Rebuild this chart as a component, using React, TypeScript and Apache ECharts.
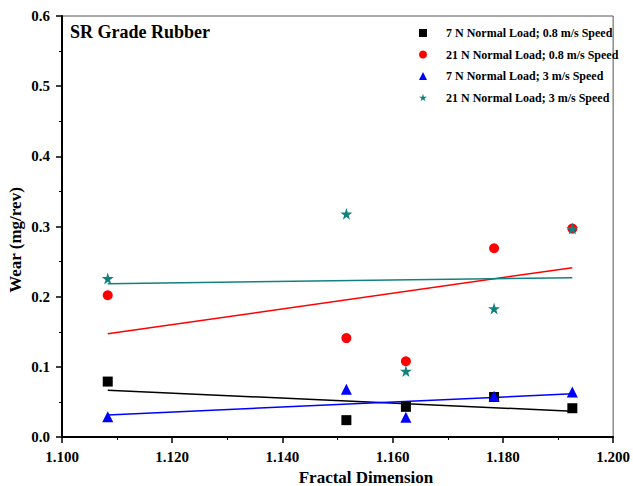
import React, { useEffect, useRef } from "react";
import * as echarts from "echarts";

const fractalDim = [1.1083, 1.1516, 1.1624, 1.1784, 1.1926];
const wear7N08 = [0.079, 0.024, 0.043, 0.057, 0.041];
const wear21N08 = [0.202, 0.141, 0.108, 0.269, 0.297];
const wear7N3 = [0.029, 0.068, 0.028, 0.058, 0.064];
const wear21N3 = [0.226, 0.318, 0.094, 0.183, 0.297];

const seriesNames = [
  "7 N Normal Load; 0.8 m/s Speed",
  "21 N Normal Load; 0.8 m/s Speed",
  "7 N Normal Load; 3 m/s Speed",
  "21 N Normal Load; 3 m/s Speed",
];
const seriesColors = ["#000000", "#ff0000", "#0000ff", "#138080"];
const STAR =
  "path://M50,0 L61,35 L98,35 L68,57 L79,91 L50,70 L21,91 L32,57 L2,35 L39,35 Z";
const seriesSymbols = ["rect", "circle", "triangle", STAR];
const symbolSizes = [10, 10, 11, 12];

function fit(xs: number[], ys: number[]): number[][] {
  const n = xs.length;
  const mx = xs.reduce((a, b) => a + b, 0) / n;
  const my = ys.reduce((a, b) => a + b, 0) / n;
  let sxy = 0;
  let sxx = 0;
  for (let i = 0; i < n; i++) {
    sxy += (xs[i] - mx) * (ys[i] - my);
    sxx += (xs[i] - mx) * (xs[i] - mx);
  }
  const b = sxy / sxx;
  const a = my - b * mx;
  const x0 = Math.min(...xs);
  const x1 = Math.max(...xs);
  return [
    [x0, a + b * x0],
    [x1, a + b * x1],
  ];
}

const FONT = "'Liberation Serif', 'Times New Roman', serif";

export default function App() {
  const ref = useRef<HTMLDivElement>(null);
  useEffect(() => {
    if (!ref.current) return;
    const chart = echarts.init(ref.current, undefined, { renderer: "svg" });
    const allY = [wear7N08, wear21N08, wear7N3, wear21N3];
    const series: any[] = [];
    allY.forEach((ys, i) => {
      series.push({
        type: "line",
        name: "fit" + i,
        data: fit(fractalDim, ys),
        symbol: "none",
        lineStyle: { color: seriesColors[i], width: 1.5 },
        z: 2,
      });
    });
    allY.forEach((ys, i) => {
      series.push({
        type: "scatter",
        name: seriesNames[i],
        data: fractalDim.map((x, j) => [x, ys[j]]),
        symbol: seriesSymbols[i],
        symbolSize: symbolSizes[i],
        itemStyle: { color: seriesColors[i], opacity: 1 },
        z: 3,
      });
    });
    chart.setOption({
      animation: false,
      backgroundColor: "#ffffff",
      grid: {
        left: 62,
        top: 16,
        width: 556,
        height: 421,
        show: true,
        borderColor: "#555",
        borderWidth: 1,
        backgroundColor: "transparent",
      },
      legend: {
        data: seriesNames.map((n, i) => ({
          name: n,
          icon: seriesSymbols[i],
          itemStyle: { opacity: 1 },
        })),
        orient: "vertical",
        left: 414,
        top: 22,
        itemWidth: 8,
        itemHeight: 8,
        itemGap: 9.5,
        padding: 5,
        textStyle: {
          fontFamily: FONT,
          fontWeight: "bold",
          fontSize: 12,
          color: "#000",
          lineHeight: 12,
          padding: [0, 0, 0, 14],
        },
      },
      xAxis: {
        type: "value",
        min: 1.1,
        max: 1.2,
        interval: 0.02,
        axisLine: { onZero: false, lineStyle: { color: "#000", width: 2 } },
        axisTick: { show: true, inside: false, length: 6, lineStyle: { color: "#000", width: 1.5 } },
        minorTick: { show: true, splitNumber: 2, length: 3, lineStyle: { color: "#000", width: 1 } },
        splitLine: { show: false },
        axisLabel: {
          margin: 12,
          fontFamily: FONT,
          fontWeight: "bold",
          fontSize: 15,
          color: "#000",
          formatter: (v: number) => v.toFixed(3),
        },
      },
      yAxis: {
        type: "value",
        min: 0,
        max: 0.6,
        interval: 0.1,
        axisLine: { show: true, onZero: false, lineStyle: { color: "#000", width: 2 } },
        axisTick: { show: true, inside: false, length: 6, lineStyle: { color: "#000", width: 1.5 } },
        minorTick: { show: true, splitNumber: 2, length: 3, lineStyle: { color: "#000", width: 1 } },
        splitLine: { show: false },
        axisLabel: {
          margin: 12,
          fontFamily: FONT,
          fontWeight: "bold",
          fontSize: 15,
          color: "#000",
          formatter: (v: number) => v.toFixed(1),
        },
      },
      graphic: [
        {
          type: "text",
          x: 70,
          y: 32,
          style: {
            text: "SR Grade Rubber",
            font: "bold 18px " + FONT,
            fill: "#000",
            textVerticalAlign: "middle",
          },
        },
        {
          type: "text",
          x: 366,
          y: 477,
          style: {
            text: "Fractal Dimension",
            font: "bold 17px " + FONT,
            fill: "#000",
            textAlign: "center",
            textVerticalAlign: "middle",
          },
        },
        {
          type: "text",
          x: 15,
          y: 240,
          rotation: Math.PI / 2,
          style: {
            text: "Wear (mg/rev)",
            font: "bold 17px " + FONT,
            fill: "#000",
            textAlign: "center",
            textVerticalAlign: "middle",
          },
        },
      ],
      series,
    });
    return () => chart.dispose();
  }, []);
  return (
    <div
      ref={ref}
      style={{ position: "absolute", left: 0, top: 0, width: 633, height: 486 }}
    />
  );
}
